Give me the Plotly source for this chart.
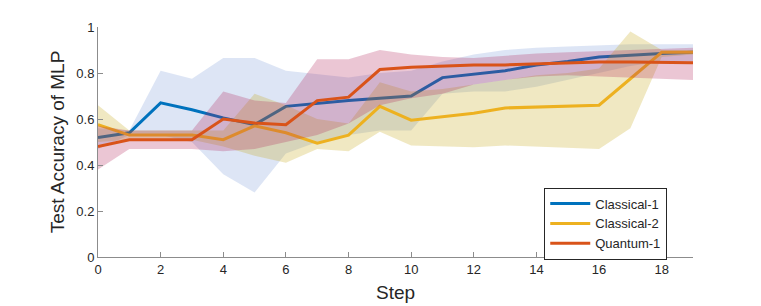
import plotly.graph_objects as go

steps = list(range(20))

c1_mean = [0.52, 0.54, 0.67, 0.64, 0.605, 0.575, 0.655, 0.668, 0.68, 0.69,
           0.70, 0.78, 0.795, 0.81, 0.835, 0.85, 0.87, 0.878, 0.885, 0.89]
c1_upper = [0.56, 0.55, 0.81, 0.775, 0.865, 0.865, 0.81, 0.795, 0.78, 0.80,
            0.81, 0.85, 0.88, 0.90, 0.91, 0.915, 0.92, 0.925, 0.925, 0.925]
c1_lower = [0.47, 0.53, 0.53, 0.50, 0.36, 0.28, 0.45, 0.50, 0.53, 0.55,
            0.55, 0.71, 0.72, 0.72, 0.74, 0.77, 0.80, 0.83, 0.85, 0.85]

c2_mean = [0.575, 0.53, 0.53, 0.53, 0.51, 0.57, 0.54, 0.495, 0.53, 0.655,
           0.595, 0.61, 0.625, 0.648, 0.652, 0.656, 0.66, 0.775, 0.89, 0.89]
c2_upper = [0.66, 0.55, 0.55, 0.55, 0.55, 0.71, 0.66, 0.60, 0.58, 0.76,
            0.72, 0.73, 0.75, 0.77, 0.79, 0.80, 0.82, 0.98, 0.90, 0.90]
c2_lower = [0.50, 0.51, 0.51, 0.51, 0.48, 0.44, 0.41, 0.47, 0.46, 0.545,
            0.485, 0.48, 0.477, 0.485, 0.48, 0.475, 0.47, 0.56, 0.87, 0.88]

q1_mean = [0.48, 0.51, 0.51, 0.51, 0.60, 0.583, 0.575, 0.68, 0.695, 0.815,
           0.825, 0.83, 0.835, 0.835, 0.84, 0.845, 0.848, 0.848, 0.845, 0.845]
q1_upper = [0.57, 0.55, 0.55, 0.55, 0.72, 0.68, 0.67, 0.86, 0.86, 0.90,
            0.88, 0.87, 0.865, 0.875, 0.885, 0.89, 0.895, 0.90, 0.905, 0.91]
q1_lower = [0.38, 0.47, 0.47, 0.47, 0.46, 0.47, 0.50, 0.53, 0.58, 0.66,
            0.69, 0.71, 0.75, 0.77, 0.785, 0.79, 0.785, 0.78, 0.775, 0.77]

names = ["Classical-1", "Classical-2", "Quantum-1"]
line_colors = ["#0072BD", "#EDB120", "#D95319"]
band_colors = ["rgba(119,151,215,0.25)", "rgba(195,163,11,0.25)", "rgba(175,27,83,0.25)"]
series = [(c1_mean, c1_upper, c1_lower), (c2_mean, c2_upper, c2_lower), (q1_mean, q1_upper, q1_lower)]

font_family = "Liberation Sans, Arial, Helvetica, sans-serif"

fig = go.Figure()
for name, lc, bc, (m, up, lo) in zip(names, line_colors, band_colors, series):
    fig.add_trace(go.Scatter(x=steps + steps[::-1], y=up + lo[::-1], mode="lines",
                             fill="toself", fillcolor=bc, line=dict(width=0),
                             hoverinfo="skip", showlegend=False))
    fig.add_trace(go.Scatter(x=steps, y=m, mode="lines", name=name,
                             line=dict(color=lc, width=3)))

axis_color = "#8c8c8c"
fig.update_layout(
    width=761, height=306,
    margin=dict(l=90, r=76, t=14, b=57),
    paper_bgcolor="white", plot_bgcolor="white",
    font=dict(family=font_family, size=13, color="#262626"),
    showlegend=True,
    legend=dict(x=0.75, y=0.302, xanchor="left", yanchor="top",
                bordercolor="#262626", borderwidth=1, bgcolor="white",
                font=dict(size=13, color="#262626"), itemwidth=40,
                tracegroupgap=0),
    xaxis=dict(range=[0, 19], tickmode="array", tickvals=list(range(0, 19, 2)),
               showgrid=False, zeroline=False, showline=True, linecolor=axis_color,
               linewidth=1, ticks="inside", ticklen=5, tickcolor=axis_color,
               title=dict(text="Step", font=dict(size=19), standoff=10),
               tickfont=dict(size=13)),
    yaxis=dict(range=[0, 1], tickmode="array", tickvals=[0, 0.2, 0.4, 0.6, 0.8, 1],
               ticktext=["0", "0.2", "0.4", "0.6", "0.8", "1"],
               showgrid=False, zeroline=False, showline=True, linecolor=axis_color,
               linewidth=1, ticks="inside", ticklen=5, tickcolor=axis_color,
               title=dict(text="Test Accuracy of MLP", font=dict(size=19), standoff=6),
               tickfont=dict(size=13)),
)

fig.write_html("out.html")
